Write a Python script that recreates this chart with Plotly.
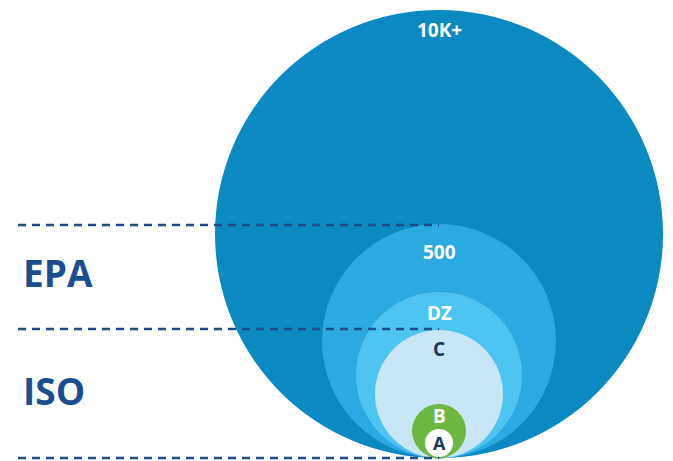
import plotly.graph_objects as go

# Data
labels = ["10K+", "500", "DZ", "C", "B", "A"]
radii = [224, 117, 83, 64, 27, 15]
fill_colors = ["#0b89c1", "#2ba9e1", "#4ec4f1", "#c9e6f6", "#6bb843", "#ffffff"]
text_colors = ["#ffffff", "#ffffff", "#ffffff", "#1d3557", "#ffffff", "#1d3557"]
label_offsets = [20, 28, 21, 19, 12, 15]
label_sizes = [19, 19, 19, 19, 19, 18]

band_labels = ["EPA", "ISO"]
band_bounds = [233, 129, 0]

fig = go.Figure()

shapes = []
for r, c, lab in zip(radii, fill_colors, labels):
    line = dict(width=0)
    if lab == "A":
        line = dict(color="#6bb843", width=2)
    shapes.append(dict(type="circle", xref="x", yref="y",
                       x0=-r, x1=r, y0=0, y1=2 * r,
                       fillcolor=c, line=line, layer="below"))

for b in band_bounds:
    shapes.append(dict(type="line", xref="x", yref="y",
                       x0=-421, x1=0, y0=b, y1=b,
                       line=dict(color="#1f4d8a", width=2.5, dash="8px,6px"),
                       layer="above"))

fig.update_layout(shapes=shapes)

annotations = []
for r, lab, tc, off, sz in zip(radii, labels, text_colors, label_offsets, label_sizes):
    annotations.append(dict(x=0, y=2 * r - off, xref="x", yref="y", text=f"<b>{lab}</b>",
                            showarrow=False, font=dict(family="Open Sans", size=sz, color=tc)))

band_label_y = [186, 68]
for lab, yy in zip(band_labels, band_label_y):
    annotations.append(dict(x=-418, y=yy, xref="x", yref="y", text=f"<b>{lab}</b>",
                            showarrow=False, xanchor="left",
                            font=dict(family="Open Sans", size=37, color="#1a4f8f")))

fig.update_layout(
    annotations=annotations,
    width=673, height=461,
    margin=dict(l=0, r=0, t=0, b=0),
    paper_bgcolor="white", plot_bgcolor="white",
    xaxis=dict(range=[-439, 234], visible=False, fixedrange=True),
    yaxis=dict(range=[-3, 458], visible=False, fixedrange=True),
    showlegend=False,
)

fig.write_html("out.html")
